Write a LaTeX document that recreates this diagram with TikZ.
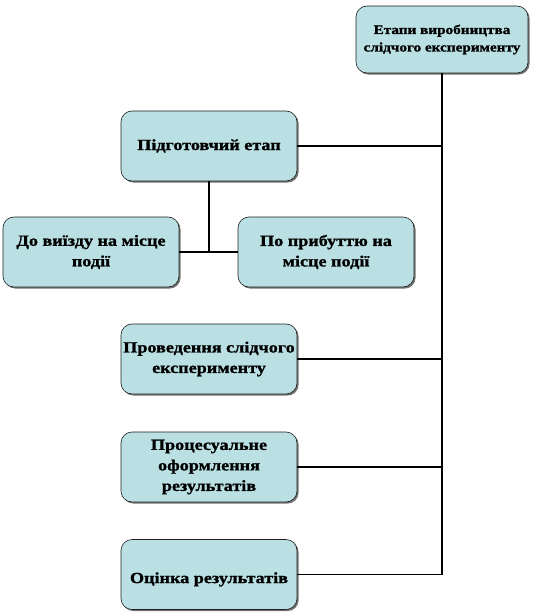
\documentclass[tikz,border=0pt]{standalone}
\usepackage{fontspec}
\setmainfont{Liberation Serif}[FakeStretch=1.17,BoldFeatures={FakeBold=1.2}]
\usepackage{tikz}
\usetikzlibrary{shadows}
\definecolor{boxCyan}{HTML}{BAE0E3}
\definecolor{ink}{HTML}{1E1E1E}

\begin{document}
\begin{tikzpicture}[x=1pt,y=-1pt,
  box/.style={draw=ink,line width=0.6pt,rounded corners=11pt,fill=boxCyan,
    drop shadow={shadow xshift=1.6pt,shadow yshift=-1.6pt,fill=black!55,opacity=1},
    minimum width=176pt,minimum height=70pt,align=center,inner sep=1pt,
    font=\fontsize{15.5}{20.5}\selectfont\bfseries},
  stem/.style={line width=2.2pt},
  branch/.style={line width=1.6pt}]
\useasboundingbox (0,0) rectangle (535,612);
% head
\node[box,minimum width=172pt,minimum height=67pt,
  font=\fontsize{13}{17.5}\selectfont\bfseries] (etapy) at (442,39.5)
  {Етапи виробництва\\слідчого експерименту};
% stages
\node[box] (pidg) at (209,146) {Підготовчий етап};
\node[box] (do) at (91,252) {До виїзду на місце\\події};
\node[box] (po) at (326,252) {По прибуттю на\\місце події};
\node[box] (prov) at (209,359) {Проведення слідчого\\експерименту};
\node[box] (proc) at (209,467) {Процесуальне\\оформлення\\результатів};
\node[box] (ocin) at (209,574.5) {\mbox{}\\Оцінка результатів};
% trunk
\coordinate (trunk) at (etapy.south |- ocin.east);
\draw[stem] (etapy.south) -- (trunk);
\draw[branch] (pidg.east) -- (pidg.east -| trunk);
\draw[branch] (prov.east) -- (prov.east -| trunk);
\draw[branch] (proc.east) -- (proc.east -| trunk);
\draw[branch] (ocin.east) -- (trunk);
% sub-stages
\draw[stem] (pidg.south) -- (pidg.south |- do.east);
\draw[branch] (do.east) -- (po.west);
\end{tikzpicture}
\end{document}
